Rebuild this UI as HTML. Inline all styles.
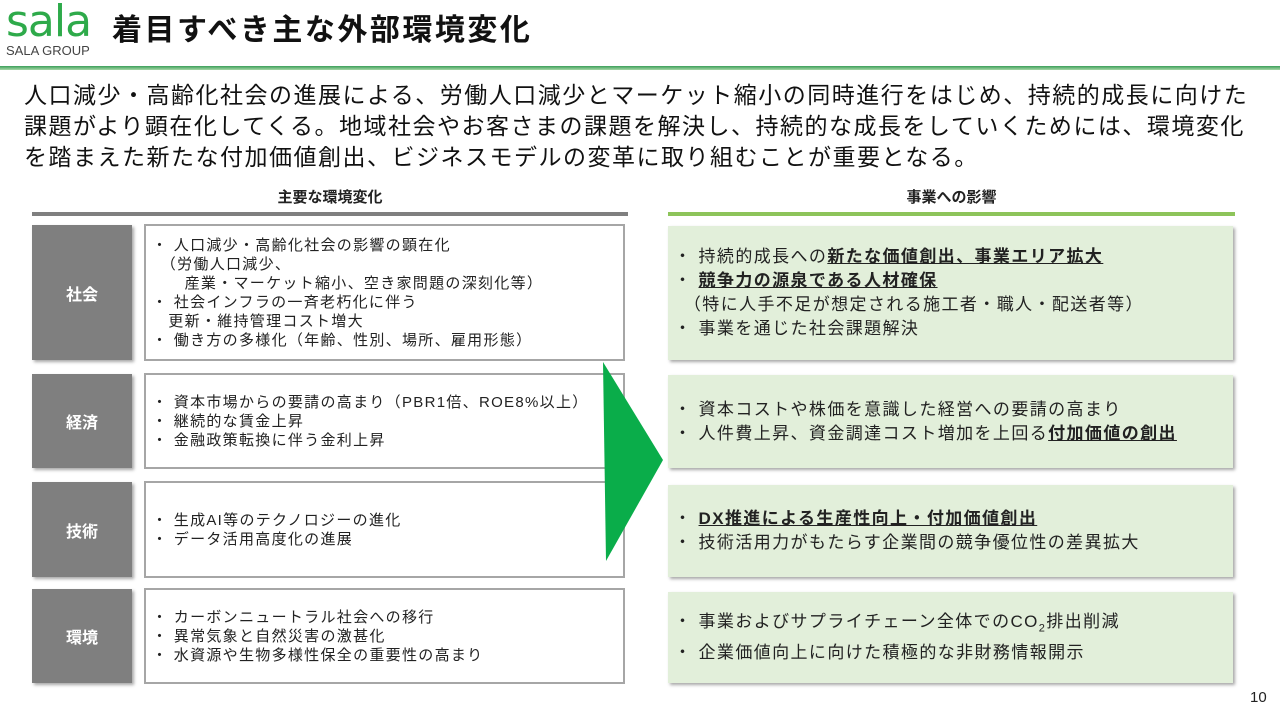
<!DOCTYPE html>
<html><head><meta charset="utf-8">
<style>
*{margin:0;padding:0;box-sizing:border-box}
body{width:1280px;height:720px;position:relative;background:#fff;font-family:"Liberation Sans","Noto Sans CJK JP",sans-serif;color:#222;overflow:hidden}
.a{position:absolute}
.lab{position:absolute;left:32px;width:100px;background:#7f7f7f;color:#fff;font-weight:bold;font-size:16px;display:flex;align-items:center;justify-content:center;box-shadow:2px 2px 3px rgba(0,0,0,.35)}
.box{position:absolute;left:144px;width:481px;border:2px solid #a6a6a6;background:#fff;font-size:15px;letter-spacing:1.3px;line-height:19px;padding-left:6px;display:flex;flex-direction:column;justify-content:center;white-space:nowrap}
.gb{position:absolute;left:668px;width:565px;background:#e2efda;box-shadow:2px 2px 3px rgba(0,0,0,.35);font-size:17px;letter-spacing:1.4px;line-height:24px;padding-left:6px;display:flex;flex-direction:column;justify-content:center;white-space:nowrap}
b.u{text-decoration:underline}
</style></head><body>
<div class="a" style="left:6px;top:0px;font-size:44px;color:#2eaa4a;font-family:'DejaVu Sans',sans-serif;letter-spacing:-1px;line-height:44px">sala</div>
<div class="a" style="left:6px;top:44px;font-size:13px;color:#444;line-height:14px">SALA GROUP</div>
<div class="a" style="left:112px;top:10px;font-size:30px;letter-spacing:2.5px;font-weight:bold;color:#111;line-height:42px">着目すべき主な外部環境変化</div>
<div class="a" style="left:0;top:66px;width:1280px;height:4px;background:linear-gradient(#3c9f5a,#a8d8a8)"></div>
<div class="a" style="left:24px;top:80px;font-size:23px;letter-spacing:1.5px;line-height:31px;color:#111;width:1270px;white-space:nowrap">人口減少・高齢化社会の進展による、労働人口減少とマーケット縮小の同時進行をはじめ、持続的成長に向けた<br>課題がより顕在化してくる。地域社会やお客さまの課題を解決し、持続的な成長をしていくためには、環境変化<br>を踏まえた新たな付加価値創出、ビジネスモデルの変革に取り組むことが重要となる。</div>
<div class="a" style="left:32px;top:186px;width:596px;text-align:center;font-size:15px;font-weight:bold">主要な環境変化</div>
<div class="a" style="left:32px;top:212px;width:596px;height:4px;background:#7f7f7f"></div>
<div class="a" style="left:668px;top:186px;width:567px;text-align:center;font-size:15px;font-weight:bold">事業への影響</div>
<div class="a" style="left:668px;top:212px;width:567px;height:4px;background:#8dc45a"></div>

<div class="lab" style="top:225px;height:135px">社会</div>
<div class="lab" style="top:374px;height:94px">経済</div>
<div class="lab" style="top:482px;height:95px">技術</div>
<div class="lab" style="top:589px;height:94px">環境</div>

<div class="box" style="top:224px;height:137px">
<div>・ 人口減少・高齢化社会の影響の顕在化</div>
<div>　（労働人口減少、</div>
<div>　　産業・マーケット縮小、空き家問題の深刻化等）</div>
<div>・ 社会インフラの一斉老朽化に伴う</div>
<div>　更新・維持管理コスト増大</div>
<div>・ 働き方の多様化（年齢、性別、場所、雇用形態）</div></div>
<div class="box" style="top:373px;height:96px">
<div>・ 資本市場からの要請の高まり（PBR1倍、ROE8%以上）</div>
<div>・ 継続的な賃金上昇</div>
<div>・ 金融政策転換に伴う金利上昇</div></div>
<div class="box" style="top:481px;height:97px">
<div>・ 生成AI等のテクノロジーの進化</div>
<div>・ データ活用高度化の進展</div></div>
<div class="box" style="top:588px;height:96px">
<div>・ カーボンニュートラル社会への移行</div>
<div>・ 異常気象と自然災害の激甚化</div>
<div>・ 水資源や生物多様性保全の重要性の高まり</div></div>

<svg class="a" style="left:0;top:0" width="1280" height="720"><polygon points="603,362 663,460 606,561" fill="#0aad4a"/></svg>

<div class="gb" style="top:226px;height:134px">
<div>・ 持続的成長への<b class="u">新たな価値創出、事業エリア拡大</b></div>
<div>・ <b class="u">競争力の源泉である人材確保</b></div>
<div>　（特に人手不足が想定される施工者・職人・配送者等）</div>
<div>・ 事業を通じた社会課題解決</div></div>
<div class="gb" style="top:375px;height:93px">
<div>・ 資本コストや株価を意識した経営への要請の高まり</div>
<div>・ 人件費上昇、資金調達コスト増加を上回る<b class="u">付加価値の創出</b></div></div>
<div class="gb" style="top:485px;height:92px">
<div>・ <b class="u">DX推進による生産性向上・付加価値創出</b></div>
<div>・ 技術活用力がもたらす企業間の競争優位性の差異拡大</div></div>
<div class="gb" style="top:592px;height:91px">
<div>・ 事業およびサプライチェーン全体でのCO<sub style="font-size:11px">2</sub>排出削減</div>
<div>・ 企業価値向上に向けた積極的な非財務情報開示</div></div>

<div class="a" style="left:1250px;top:689px;font-size:15px">10</div>
</body></html>
